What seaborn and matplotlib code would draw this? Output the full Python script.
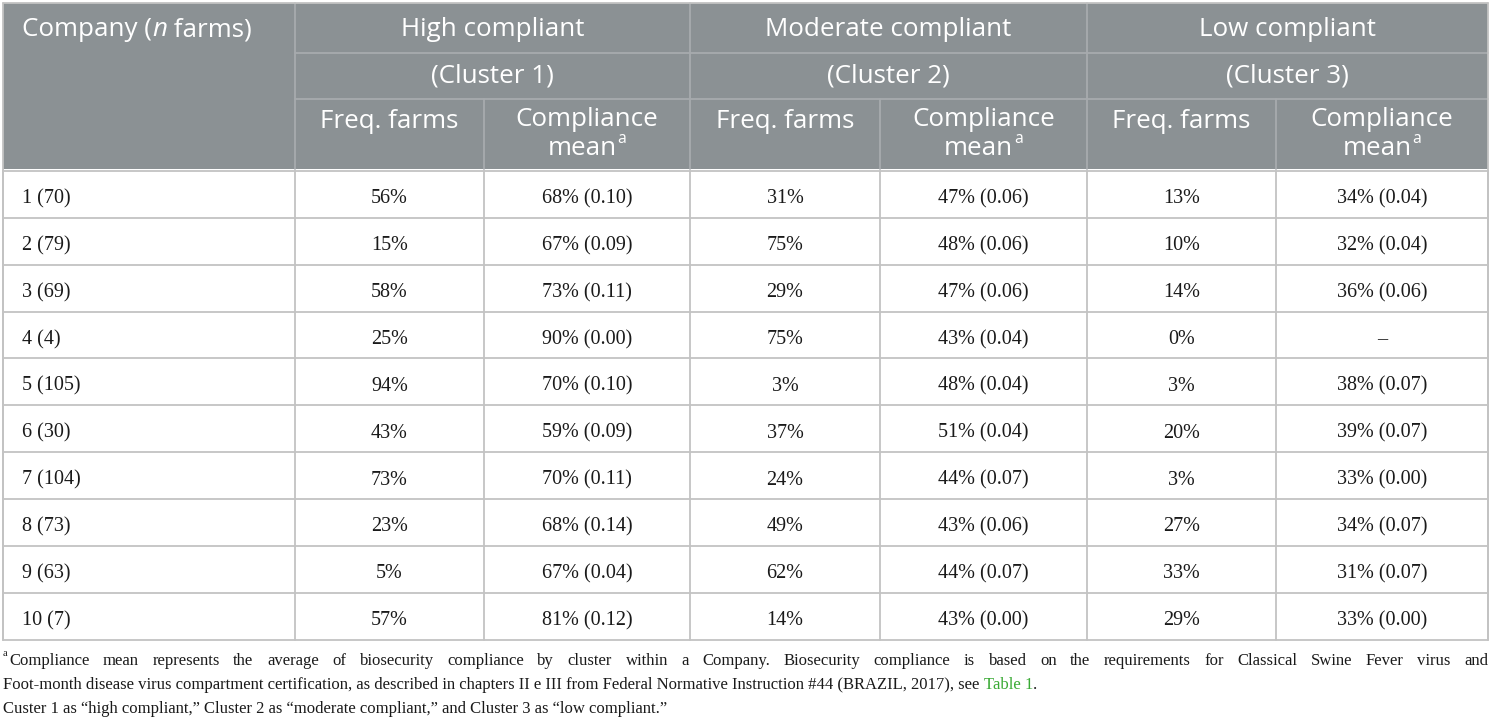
import numpy as np
import seaborn as sns
import matplotlib.pyplot as plt
from matplotlib.patches import Rectangle

sns.set_style("white")
plt.rcParams['font.family'] = ['Liberation Serif', 'DejaVu Serif']

# table data
companies = ["1 (70)", "2 (79)", "3 (69)", "4 (4)", "5 (105)", "6 (30)",
             "7 (104)", "8 (73)", "9 (63)", "10 (7)"]
high_freq = ["56%", "15%", "58%", "25%", "94%", "43%", "73%", "23%", "5%", "57%"]
high_mean = ["68% (0.10)", "67% (0.09)", "73% (0.11)", "90% (0.00)", "70% (0.10)",
             "59% (0.09)", "70% (0.11)", "68% (0.14)", "67% (0.04)", "81% (0.12)"]
mod_freq = ["31%", "75%", "29%", "75%", "3%", "37%", "24%", "49%", "62%", "14%"]
mod_mean = ["47% (0.06)", "48% (0.06)", "47% (0.06)", "43% (0.04)", "48% (0.04)",
            "51% (0.04)", "44% (0.07)", "43% (0.06)", "44% (0.07)", "43% (0.00)"]
low_freq = ["13%", "10%", "14%", "0%", "3%", "20%", "3%", "27%", "33%", "29%"]
low_mean = ["34% (0.04)", "32% (0.04)", "36% (0.06)", "\u2013", "38% (0.07)",
            "39% (0.07)", "33% (0.00)", "34% (0.07)", "31% (0.07)", "33% (0.00)"]

clusters = ["High compliant", "Moderate compliant", "Low compliant"]
cluster_ids = ["(Cluster 1)", "(Cluster 2)", "(Cluster 3)"]

foot1 = ("Compliance mean represents the average of biosecurity compliance by cluster "
         "within a Company. Biosecurity compliance is based on the requirements for "
         "Classical Swine Fever virus and")
foot2 = ("Foot-month disease virus compartment certification, as described in chapters "
         "II e III from Federal Normative Instruction #44 (BRAZIL, 2017), see ")
foot3 = ("Custer 1 as \u201chigh compliant,\u201d Cluster 2 as \u201cmoderate compliant,\u201d "
         "and Cluster 3 as \u201clow compliant.\u201d")

W, H = 1491, 726
fig = plt.figure(figsize=(W / 100, H / 100), dpi=100)
ax = fig.add_axes([0, 0, 1, 1])
ax.set_xlim(0, W)
ax.set_ylim(H, 0)
ax.axis("off")
fig.canvas.draw()
r = fig.canvas.get_renderer()

head_bg = "#8b9194"
head_line = "#a7abae"
body_line = "#c3c3c3"
ink = "#1a1a1a"
sans = ["Open Sans", "DejaVu Sans"]
hsize = 18.7
bsize = 14.5
fsize = 12.0

left, right = 3, 1488
top, head_bot = 3, 169
cols = [left, 295, 484, 690, 880, 1087, 1276, right]
row_top = 171
row_h = 46.85
nrows = len(companies)


def put(x, y, s, **kw):
    # draw text left-aligned and return the x where it ends
    t = ax.text(x, y, s, **kw)
    return x + t.get_window_extent(renderer=r).width


ax.add_patch(Rectangle((left, top), right - left, head_bot - top, color=head_bg, lw=0))
lk = dict(lw=1.3)
# header lines
for x in [295, 690, 1087]:
    ax.plot([x, x], [top, head_bot], color=head_line, **lk)
for x in [484, 880, 1276]:
    ax.plot([x, x], [99, head_bot], color=head_line, **lk)
for y in [53, 99]:
    ax.plot([295, right], [y, y], color=head_line, **lk)

# body lines
bottom = row_top + row_h * nrows
for x in cols:
    ax.plot([x, x], [row_top, bottom], color=body_line, **lk)
for i in range(nrows + 1):
    y = row_top + row_h * i
    ax.plot([left, right], [y, y], color=body_line, **lk)
ax.plot([left, left], [top, bottom], color=body_line, **lk)
ax.plot([right, right], [top, bottom], color=body_line, **lk)
ax.plot([left, right], [top, top], color=body_line, **lk)

# header text
hk = dict(color="white", fontsize=hsize, family=sans, va="center")
x0 = put(22, 30, "Company (", **hk)
x0 = put(x0, 30, "n", style="italic", **hk)
put(x0, 30, " farms)", **hk)

for k in range(3):
    cx = (cols[1 + 2 * k] + cols[3 + 2 * k]) / 2
    ax.text(cx, 30, clusters[k], ha="center", **hk)
    ax.text(cx, 76, cluster_ids[k], ha="center", **hk)
    fx = (cols[1 + 2 * k] + cols[2 + 2 * k]) / 2
    ax.text(fx, 121, "Freq. farms", ha="center", **hk)
    mx = (cols[2 + 2 * k] + cols[3 + 2 * k]) / 2
    ax.text(mx, 119, "Compliance", ha="center", **hk)
    t = ax.text(mx - 5, 146, "mean", ha="center", va="baseline", color="white",
                fontsize=hsize, family=sans)
    t.set_y(155)
    bb = t.get_window_extent(renderer=r)
    ax.text(mx - 5 + bb.width / 2 + 1, 139, "a", color="white", fontsize=hsize * 0.6,
            family=sans, ha="left", va="center")

# body text
body_cols = [high_freq, high_mean, mod_freq, mod_mean, low_freq, low_mean]
for i in range(nrows):
    yc = row_top + row_h * (i + 0.5) + 4.5
    ax.text(22, yc, companies[i], fontsize=bsize, color=ink, va="center")
    for j, col in enumerate(body_cols):
        cx = (cols[1 + j] + cols[2 + j]) / 2
        ax.text(cx, yc, col[i], fontsize=bsize, color=ink, ha="center", va="center")

# footnotes (first line justified)
ax.text(3, 654, "a", fontsize=fsize * 0.62, color=ink, va="center")
words = foot1.split(" ")
widths = []
for w in words:
    t = ax.text(0, 0, w, fontsize=fsize)
    widths.append(t.get_window_extent(renderer=r).width)
    t.remove()
x_start = 9
gap = (right - x_start - sum(widths)) / (len(words) - 1)
x = x_start
for w, wd in zip(words, widths):
    ax.text(x, 661, w, fontsize=fsize, color=ink, va="center")
    x += wd + gap

x1 = put(3, 685, foot2, fontsize=fsize, color=ink, va="center")
x1 = put(x1, 685, "Table 1", fontsize=fsize, color="#3aaa35", va="center")
put(x1, 685, ".", fontsize=fsize, color=ink, va="center")
ax.text(3, 709, foot3, fontsize=fsize, color=ink, va="center")

fig.savefig("out.png", dpi=100)
